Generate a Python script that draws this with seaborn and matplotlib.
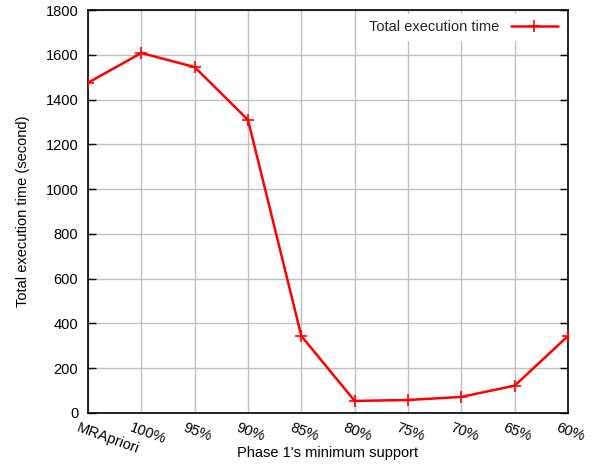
import matplotlib
matplotlib.use("Agg")
import matplotlib.pyplot as plt
import seaborn as sns
import pandas as pd

# Phase 1 minimum support settings and measured total execution time
categories = ["MRApriori", "100%", "95%", "90%", "85%", "80%", "75%", "70%", "65%", "60%"]
exec_time = [1475, 1608, 1545, 1309, 344, 54, 58, 72, 122, 344]
y_ticks = [0, 200, 400, 600, 800, 1000, 1200, 1400, 1600, 1800]

sns.set_theme(style="white")
plt.rcParams["font.family"] = ["Liberation Sans", "DejaVu Sans"]

FS = 10.5

df = pd.DataFrame({"pos": range(len(categories)), "time": exec_time})

fig = plt.figure(figsize=(6.05, 4.66), dpi=100)
ax = fig.add_axes([88 / 605, 1 - 413 / 466, 480 / 605, 403 / 466])

sns.lineplot(data=df, x="pos", y="time", ax=ax, color="#ff0000", linewidth=1.8,
             marker="+", markersize=9, markeredgewidth=1.2, markeredgecolor="#ff0000",
             label="Total execution time", zorder=3)

ax.set_xlim(0, len(categories) - 1)
ax.set_ylim(0, 1800)
ax.set_yticks(y_ticks)
ax.set_yticklabels([str(v) for v in y_ticks], fontsize=FS, color="black")
ax.set_xticks(range(len(categories)))
ax.set_xticklabels([])

for i, lab in enumerate(categories):
    ax.text(i - 0.16, -0.02, lab, transform=ax.get_xaxis_transform(),
            rotation=-20, rotation_mode="anchor", ha="left", va="top",
            fontsize=FS, color="black")

ax.grid(True, color="#c0c0c0", linewidth=1.0)
ax.set_axisbelow(True)
ax.tick_params(axis="y", direction="in", length=6, width=1.0, right=True, left=True,
               pad=7, colors="black")
ax.tick_params(axis="x", direction="in", length=0)
for s in ax.spines.values():
    s.set_color("black")
    s.set_linewidth(1.2)

ax.set_xlabel("Phase 1's minimum support", fontsize=FS, color="black")
ax.xaxis.set_label_coords(0.5, -0.082)
ax.set_ylabel("Total execution time (second)", fontsize=FS, color="black")
ax.yaxis.set_label_coords(-0.12, 0.5)

leg = ax.legend(loc="upper right", frameon=True, fontsize=FS, handlelength=3.2,
                borderaxespad=0.3, markerfirst=False, fancybox=False)
leg.get_frame().set_edgecolor("white")
leg.get_frame().set_facecolor("white")
leg.get_frame().set_alpha(1)

fig.savefig("out.png", dpi=100)
